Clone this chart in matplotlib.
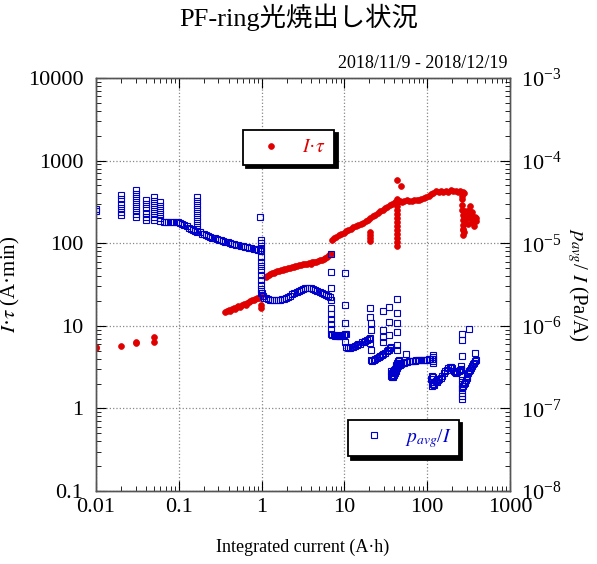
import numpy as np
import matplotlib
matplotlib.use("Agg")
import matplotlib.pyplot as plt
from matplotlib import ticker

plt.rcParams["font.family"] = ["Liberation Serif", "Noto Sans CJK JP"]
plt.rcParams["mathtext.fontset"] = "stix"

RED = "#e00000"
BLUE = "#0000cc"

# ---- I*tau (A*min) vs integrated current (A*h) ----
r0_x = [0.010, 0.010, 0.020, 0.030, 0.030, 0.050, 0.050]
r0_y = [5.4, 5.6, 5.7, 6.2, 6.4, 6.4, 7.4]

r1_x = [0.36, 0.38, 0.40, 0.42, 0.44, 0.46, 0.48, 0.50, 0.52, 0.55, 0.58, 0.61,
        0.64, 0.67, 0.70, 0.73, 0.76, 0.80, 0.84, 0.88, 0.92, 0.95, 0.98, 0.98, 0.99]
r1_y = [14.8, 15.1, 15.4, 15.3, 15.9, 16.4, 16.1, 16.9, 17.4, 17.0, 18.1, 18.4,
        18.0, 19.0, 19.5, 19.8, 20.3, 20.6, 21.2, 21.7, 22.0, 22.6, 23.0, 18.0, 16.4]

r2_x = [1.12, 1.17, 1.22, 1.28, 1.34, 1.40, 1.47, 1.54, 1.62, 1.70, 1.79, 1.88,
        1.98, 2.08, 2.19, 2.31, 2.43, 2.56, 2.70, 2.85, 3.00, 3.16, 3.33, 3.51,
        3.70, 3.90, 4.11, 4.33, 4.56, 4.80, 5.06, 5.33, 5.61, 5.91, 6.23, 6.56, 6.90]
r2_y = [39, 40.5, 41.5, 42.5, 43.5, 44, 44.8, 45.5, 46.2, 47, 47.6, 48.3,
        49, 49.6, 50.4, 51, 51.8, 52.5, 53, 53.8, 54.5, 55.3, 56, 56.6,
        57.2, 55.5, 58.5, 59.2, 60, 61, 62, 63.2, 64.5, 66, 68, 71, 75]

r3_x = [7.0, 7.5, 8.0, 8.6, 9.2, 9.8, 10.5, 11.2, 12.0, 12.8,
        13.7, 14.7, 15.7, 16.8, 18.0, 19.2, 20.6, 22.0, 23.5, 25.2,
        27.0, 28.9, 30.9, 33.0, 35.3, 37.8, 40.5, 43.3, 46.3, 49.6,
        53.0, 56.7, 60.7, 65.0, 69.5, 74.4, 79.6, 85.2, 91.1, 97.5,
        104, 112, 119, 128, 137, 146, 157, 168, 179, 192,
        205, 220, 235, 252, 268, 275]
r3_y = [109, 114, 119, 124, 129, 134, 139, 144, 150, 156,
        161, 166, 172, 178, 184, 192, 200, 212, 222, 232,
        245, 255, 265, 275, 288, 300, 312, 340, 322, 318,
        326, 330, 322, 326, 332, 330, 336, 345, 352, 362,
        375, 392, 410, 425, 418, 430, 422, 428, 420, 435,
        425, 430, 418, 425, 415, 400]

# scatter off the main trend: dips, spikes and the ragged tail
r4_x = [20.4, 20.4, 20.5, 20.5, 42.6, 48.9, 43.0, 43.2, 42.8, 43.0, 43.4, 42.9,
        43.1, 43.3, 42.7, 43.0, 43.2, 42.9, 264, 265, 266, 266, 267, 267, 268,
        268, 269, 270, 275, 280, 285, 290, 297, 305, 312, 318, 325, 332, 338,
        344, 350, 357, 364, 372, 380, 388, 392]
r4_y = [138, 125, 115, 105, 577, 494, 92, 104, 116, 129, 144, 161,
        181, 202, 226, 252, 282, 315, 372, 340, 290, 252, 219, 191, 166,
        144, 126, 150, 135, 210, 245, 190, 230, 205, 170, 255, 285, 225, 195,
        240, 215, 175, 160, 190, 205, 185, 200]

# ---- p_avg/I, in units of 1e-7 Pa/A ----
b0_x = [0.0100, 0.0101,
        0.020, 0.020, 0.020, 0.020, 0.020, 0.020,
        0.030, 0.030, 0.030, 0.030, 0.030, 0.030, 0.030, 0.030,
        0.040, 0.040, 0.040, 0.040, 0.040, 0.040,
        0.050, 0.050, 0.050, 0.050, 0.050, 0.050, 0.050,
        0.060, 0.060, 0.060, 0.060, 0.060, 0.060]
b0_y = [247, 262,
        384, 340, 300, 265, 240, 219,
        441, 395, 350, 315, 282, 252, 226, 205,
        334, 300, 265, 235, 210, 191,
        366, 320, 290, 258, 230, 205, 191,
        315, 282, 252, 226, 202, 185]

b1_x = [0.066, 0.070, 0.075, 0.080, 0.086, 0.092, 0.098, 0.104, 0.110, 0.117,
        0.124, 0.132, 0.140, 0.149, 0.158, 0.168, 0.178, 0.189, 0.201, 0.213,
        0.226, 0.240, 0.255, 0.271, 0.288, 0.306, 0.325, 0.345, 0.366, 0.389,
        0.413, 0.439, 0.466, 0.495, 0.526, 0.558, 0.593, 0.630, 0.669, 0.710,
        0.754, 0.801, 0.851, 0.903, 0.950]
b1_y = [183, 181, 183, 180, 182, 179, 181, 176, 170, 165,
        160, 154, 149, 146, 142, 138, 135, 131, 128, 124,
        121, 119, 116, 114, 112, 110, 108, 106, 104, 102,
        100.5, 99, 97.5, 96, 94.5, 93, 92, 90.5, 89, 88,
        86.5, 85, 84, 83, 82]

b2_x = [1.00, 1.03, 1.07, 1.12, 1.18, 1.25, 1.32, 1.40, 1.48, 1.57,
        1.66, 1.76, 1.87, 1.98, 2.10, 2.22, 2.35, 2.49, 2.64, 2.80,
        2.97, 3.15, 3.34, 3.54, 3.75, 3.97, 4.21, 4.46, 4.73, 5.01,
        5.31, 5.63, 5.97, 6.33, 6.70]
b2_y = [25, 23, 22, 21.5, 21.0, 20.8, 20.7, 20.6, 20.5, 20.6,
        20.8, 21.0, 21.4, 21.9, 22.5, 23.2, 24.0, 24.8, 25.6, 26.4,
        27.2, 27.9, 28.4, 28.6, 28.6, 28.4, 28.0, 27.4, 26.7, 25.9,
        25.0, 24.2, 23.5, 22.9, 22.4]

b3_x = [6.90, 7.15, 7.40, 7.65, 7.90, 8.20, 8.50, 8.80, 9.10, 9.45, 9.80, 10.15, 10.5,
        10.6, 11.1, 11.6, 12.2, 12.8, 13.4, 14.1, 14.8, 15.5, 16.3, 17.1, 17.9,
        18.8, 19.7, 20.6,
        20.8, 21.7, 22.7, 23.7, 24.8, 25.9, 27.1, 28.3, 29.6, 30.9, 32.3, 33.8,
        35.3, 36.5]
b3_y = [8.0, 7.8, 7.7, 7.6, 7.7, 7.5, 7.6, 7.5, 7.6, 7.7, 7.8, 7.9, 8.0,
        5.5, 5.4, 5.45, 5.5, 5.6, 5.7, 5.8, 5.95, 6.1, 6.3, 6.45, 6.6,
        6.8, 7.0, 7.2,
        3.85, 3.8, 3.85, 3.95, 4.05, 4.15, 4.3, 4.45, 4.6, 4.75, 4.95, 5.15,
        5.35, 5.5]

b4_x = [36.5, 37.3, 38.1, 38.9, 39.7, 40.6, 41.5, 42.4, 43.3, 44.2, 45.2, 46.2,
        36.5, 37.3, 38.1, 38.9, 39.7, 40.6, 41.5, 42.4, 43.3, 44.2, 45.2, 46.2,
        46.5, 48.5, 50.5, 52.7, 55, 57.4, 59.9, 62.5, 65.2, 68, 71, 74, 77.3,
        80.7, 84.2, 87.8, 91.6, 95.6, 99.8, 104, 108.5, 113, 118,
        117, 118, 118, 119]
b4_y = [2.5, 2.4, 2.4, 2.45, 2.55, 2.65, 2.8, 2.95, 3.1, 3.25, 3.4, 3.5,
        2.8, 2.7, 2.75, 2.8, 2.9, 3.0, 3.2, 3.35, 3.5, 3.7, 3.8, 3.9,
        3.35, 3.45, 3.5, 3.55, 3.6, 3.65, 3.7, 3.72, 3.75, 3.78, 3.8, 3.82, 3.84,
        3.85, 3.86, 3.87, 3.88, 3.89, 3.9, 3.92, 3.93, 3.95, 3.97,
        3.5, 3.7, 4.2, 4.4]

b5_x = [112, 114, 116, 119, 122, 126, 130, 135, 140, 146, 152, 158, 165, 172,
        179, 186, 193, 200, 208, 216, 224, 232, 240, 248, 256,
        113, 115, 117, 120,
        258, 259, 260, 261, 262, 263, 264, 265, 266,
        266, 272, 278, 285, 292, 299, 306, 314, 322, 330, 338, 347, 356, 365,
        375, 385]
b5_y = [2.3, 2.1, 1.95, 2.0, 2.1, 2.15, 2.1, 2.2, 2.25, 2.35, 2.5, 2.65, 2.8, 2.95,
        3.05, 3.15, 3.2, 3.05, 2.85, 2.75, 2.7, 2.75, 2.8, 2.9, 3.0,
        2.5, 1.85, 2.4, 1.9,
        3.3, 2.9, 2.5, 2.2, 1.95, 1.75, 1.55, 1.4, 1.3,
        1.75, 1.85, 1.95, 2.05, 2.2, 2.35, 2.5, 2.65, 2.8, 2.95, 3.1, 3.25, 3.4, 3.55,
        3.7, 3.85]

# isolated readings stacked above the trend
b6_x = [0.167, 0.167, 0.167, 0.167, 0.167, 0.167, 0.167, 0.167, 0.167,
        0.965, 0.97, 0.97, 0.975, 0.975, 0.975, 0.98, 0.98, 0.98, 0.985, 0.985,
        0.985, 0.99, 0.99,
        6.85, 6.85, 6.9, 6.9, 6.9, 6.9, 6.95, 6.95, 6.95,
        10.3, 10.3, 10.3, 10.3,
        20.5, 20.5, 20.7, 20.7, 20.5, 20.7,
        29.3, 34.6, 34.6, 29.3, 29.3, 34.6, 29.3, 34.6,
        42.6, 42.6, 42.6, 42.6, 42.6, 42.6, 56,
        260, 260, 263, 321, 377]
b6_y = [366, 320, 290, 258, 230, 205, 185, 166, 148,
        206, 109, 100, 88, 80, 69, 60, 53, 47, 41, 36,
        31, 28, 25,
        75, 45, 28.5, 20.5, 16.5, 14, 12, 10.5, 9.2,
        43, 17.9, 10.7, 6.4,
        16.3, 12.9, 10.7, 9.0, 6.2, 5.1,
        15, 17, 11.2, 8.9, 7.4, 7.7, 6.4, 5.1,
        21.3, 14.1, 10.7, 8.5, 5.9, 5.1, 4.6,
        8.0, 6.7, 4.3, 9.1, 4.7]

itau_x = r0_x + r1_x + r2_x + r3_x + r4_x
itau_y = r0_y + r1_y + r2_y + r3_y + r4_y
pavg_x = b0_x + b1_x + b2_x + b3_x + b4_x + b5_x + b6_x
pavg_y = np.array(b0_y + b1_y + b2_y + b3_y + b4_y + b5_y + b6_y) * 1e-7

fig = plt.figure(figsize=(5.97, 5.64), dpi=100)
ax = fig.add_axes([96 / 597, 1 - 491 / 564, 414 / 597, 413 / 564])
ax2 = ax.twinx()

ax.plot(itau_x, itau_y, ls="none", marker="o", ms=4.2, mfc=RED, mec=RED, mew=0.5)
ax2.plot(pavg_x, pavg_y, ls="none", marker="s", ms=3.8, mfc="none", mec=BLUE, mew=0.8)

ax.set_xscale("log")
ax.set_yscale("log")
ax2.set_yscale("log")
ax.set_xlim(0.01, 1000)
ax.set_ylim(0.1, 10000)
ax2.set_ylim(1e-8, 1e-3)

fmt = ticker.FuncFormatter(lambda v, _: f"{v:g}")
ax.xaxis.set_major_formatter(fmt)
ax.yaxis.set_major_formatter(fmt)

ax.grid(True, which="major", ls=":", color="#888888", lw=0.9)
for a in (ax, ax2):
    a.tick_params(which="major", direction="in", length=7, width=0.8, labelsize=16)
    a.tick_params(which="minor", direction="in", length=3.5, width=0.6)
    for s in a.spines.values():
        s.set_color("#555555")
        s.set_linewidth(1.0)
ax.tick_params(which="both", top=True, right=False)
ax.tick_params(axis="x", pad=5)
ax.tick_params(axis="y", pad=9)
ax2.tick_params(axis="y", pad=8)

ax.set_xlabel("Integrated current (A·h)", fontsize=13, labelpad=16)
ax.set_ylabel(r"$I$·$\tau$ (A·min)", fontsize=15, labelpad=4)
ax2.set_ylabel(r"$p_{avg}$/ $I$ (Pa/A)", fontsize=15, rotation=270, labelpad=20)

fig.text(0.5, 1 - 17 / 564, "PF-ring光焼出し状況", ha="center", va="center", fontsize=19)
fig.text(508 / 597, 1 - 63 / 564, "2018/11/9 - 2018/12/19", ha="right", va="center",
         fontsize=13)

shadow = {"ox": 2.4, "oy": -2.4, "color": "black", "alpha": 1}
leg1 = ax.legend([ax.lines[0]], [r"$I$·$\tau$"], loc="upper left",
                 bbox_to_anchor=(0.355, 0.874), borderaxespad=0, fancybox=False,
                 edgecolor="black", framealpha=1, shadow=shadow, labelcolor=RED,
                 fontsize=14, borderpad=0.45, handlelength=2.0, handletextpad=0.6)
leg1.get_frame().set_linewidth(1.3)
leg2 = ax2.legend([ax2.lines[0]], [r"$p_{avg}$/$I$"], loc="upper left",
                  bbox_to_anchor=(0.609, 0.172), borderaxespad=0, fancybox=False,
                  edgecolor="black", framealpha=1, shadow=shadow, labelcolor=BLUE,
                  fontsize=14, borderpad=0.35, handlelength=2.0, handletextpad=0.6)
leg2.get_frame().set_linewidth(1.3)

fig.savefig("out.png", dpi=100)
